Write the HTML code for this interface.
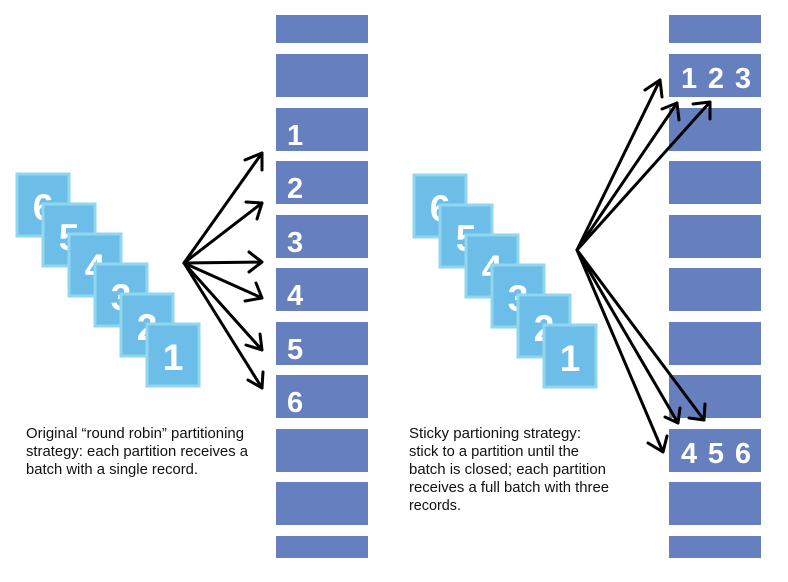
<!DOCTYPE html>
<html><head><meta charset="utf-8"><style>
html,body{margin:0;padding:0;background:#fff;}
svg{display:block;}
text{font-family:"Liberation Sans",sans-serif;}
</style></head><body>
<svg width="788" height="582" viewBox="0 0 788 582" xmlns="http://www.w3.org/2000/svg">
<defs>
<g id="bars">
<rect x="0" y="15" width="92" height="28" fill="#667fbf"/>
<rect x="0" y="54" width="92" height="43" fill="#667fbf"/>
<rect x="0" y="108" width="92" height="43" fill="#667fbf"/>
<rect x="0" y="161" width="92" height="43" fill="#667fbf"/>
<rect x="0" y="215" width="92" height="43" fill="#667fbf"/>
<rect x="0" y="268" width="92" height="43" fill="#667fbf"/>
<rect x="0" y="322" width="92" height="43" fill="#667fbf"/>
<rect x="0" y="375" width="92" height="43" fill="#667fbf"/>
<rect x="0" y="429" width="92" height="43" fill="#667fbf"/>
<rect x="0" y="482" width="92" height="43" fill="#667fbf"/>
<rect x="0" y="536" width="92" height="22" fill="#667fbf"/>
</g>
<g id="sq">
<rect x="0" y="0" width="52" height="62" fill="#6cbde8" stroke="#8fd6ef" stroke-width="3"/>
</g>
</defs>
<use href="#bars" x="276" y="0"/>
<use href="#bars" x="669" y="0"/>
<g fill="#fff" font-size="29" font-weight="bold">
<text x="287" y="145">1</text>
<text x="287" y="198">2</text>
<text x="287" y="252">3</text>
<text x="287" y="305">4</text>
<text x="287" y="359">5</text>
<text x="287" y="412">6</text>
<text x="681" y="88" textLength="70" lengthAdjust="spacing">1 2 3</text>
<text x="681" y="463" textLength="70" lengthAdjust="spacing">4 5 6</text>
</g>
<g font-size="37" font-weight="bold" fill="#fff" text-anchor="middle">
<g transform="translate(17,174)"><use href="#sq"/><text x="26" y="46">6</text></g>
<g transform="translate(43,204)"><use href="#sq"/><text x="26" y="46">5</text></g>
<g transform="translate(69,234)"><use href="#sq"/><text x="26" y="46">4</text></g>
<g transform="translate(95,264)"><use href="#sq"/><text x="26" y="46">3</text></g>
<g transform="translate(121,294)"><use href="#sq"/><text x="26" y="46">2</text></g>
<g transform="translate(147,324)"><use href="#sq"/><text x="26" y="46">1</text></g>
<g transform="translate(414,175)"><use href="#sq"/><text x="26" y="46">6</text></g>
<g transform="translate(440,205)"><use href="#sq"/><text x="26" y="46">5</text></g>
<g transform="translate(466,235)"><use href="#sq"/><text x="26" y="46">4</text></g>
<g transform="translate(492,265)"><use href="#sq"/><text x="26" y="46">3</text></g>
<g transform="translate(518,295)"><use href="#sq"/><text x="26" y="46">2</text></g>
<g transform="translate(544,325)"><use href="#sq"/><text x="26" y="46">1</text></g>
</g>
<g stroke="#000" stroke-width="3" fill="none" stroke-linecap="round" stroke-linejoin="round">
<path d="M184 263 L262 153 M245 160 L262 153 L262 170"/>
<path d="M184 263 L262 203 M246 202 L262 203 L257 219"/>
<path d="M184 263 L262 262 M249 252 L262 262 L249 272"/>
<path d="M184 263 L262 298 M256 283 L262 298 L245 301"/>
<path d="M184 263 L262 350 M260 334 L262 350 L246 345"/>
<path d="M184 263 L262 388 M263 372 L262 388 L248 380"/>
<path d="M577 250 L660 80 M645 90 L660 80 L662 97"/>
<path d="M577 250 L677 103 M662 109 L677 103 L679 120"/>
<path d="M577 250 L710 102 M693 104 L710 102 L710 119"/>
<path d="M577 250 L678 423 M665 417 L678 423 L680 408"/>
<path d="M577 250 L704 420 M689 418 L704 420 L705 404"/>
<path d="M577 250 L663 452 M648 443 L663 452 L667 436"/>
</g>
<g font-size="14.5" fill="#111">
<text x="26" y="438" textLength="218" lengthAdjust="spacingAndGlyphs">Original “round robin” partitioning</text>
<text x="26" y="456" textLength="222" lengthAdjust="spacingAndGlyphs">strategy: each partition receives a</text>
<text x="26" y="474" textLength="172" lengthAdjust="spacingAndGlyphs">batch with a single record.</text>
<text x="409" y="438" textLength="172" lengthAdjust="spacingAndGlyphs">Sticky partioning strategy:</text>
<text x="409" y="456" textLength="170" lengthAdjust="spacingAndGlyphs">stick to a partition until the</text>
<text x="409" y="474" textLength="197" lengthAdjust="spacingAndGlyphs">batch is closed; each partition</text>
<text x="409" y="492" textLength="200" lengthAdjust="spacingAndGlyphs">receives a full batch with three</text>
<text x="409" y="510" textLength="52" lengthAdjust="spacingAndGlyphs">records.</text>
</g>
</svg>
</body></html>
